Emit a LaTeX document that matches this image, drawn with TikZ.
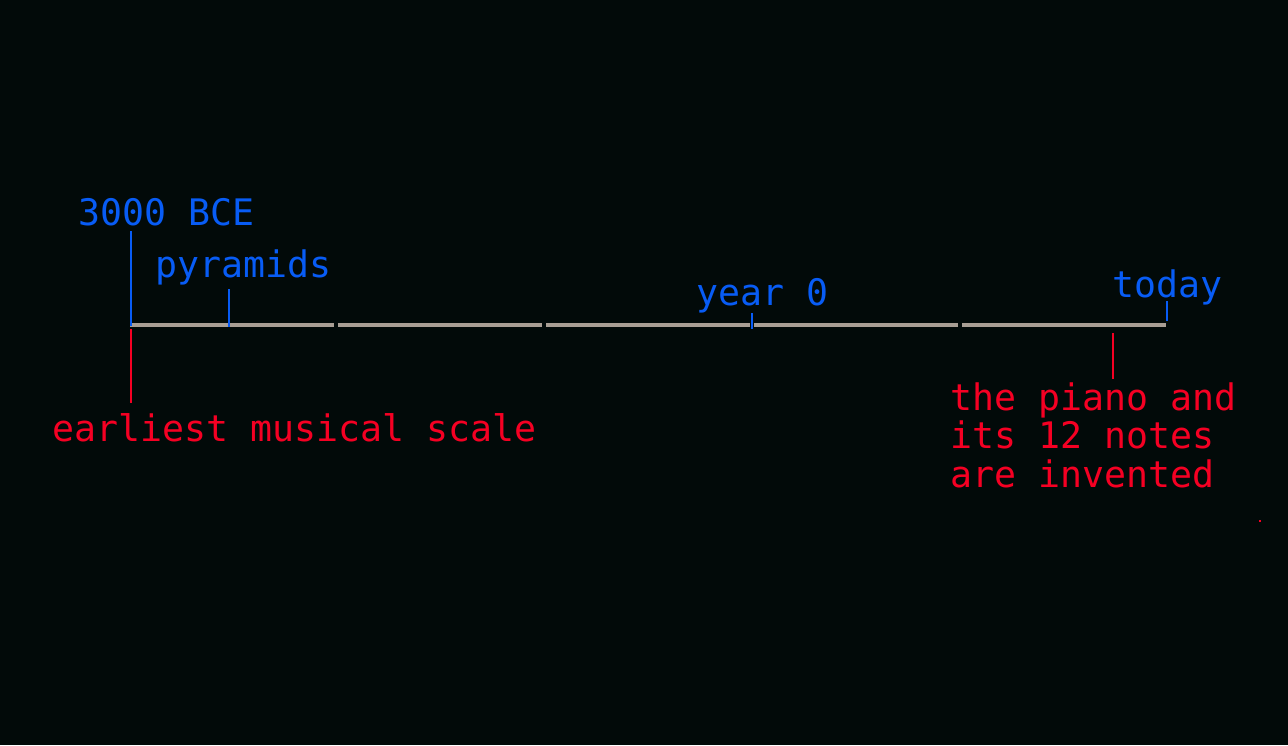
\documentclass[tikz,border=0pt]{standalone}
\usepackage{fontspec}
\setmonofont{DejaVu Sans Mono}
\usetikzlibrary{positioning, calc}
\definecolor{bgdark}{RGB}{2,10,9}
\definecolor{eventblue}{RGB}{8,92,245}
\definecolor{eventred}{RGB}{245,0,35}
\definecolor{axisgray}{RGB}{168,158,148}

\begin{document}
\begin{tikzpicture}[
    x=0.02cm, y=-0.02cm,
    % --- STYLES ---
    axis_seg/.style={draw=axisgray, line width=0.08cm},
    blue_label/.style={text=eventblue, inner sep=0pt, anchor=base west, font=\ttfamily\fontsize{20.8}{21.8}\selectfont},
    red_label/.style={text=eventred, inner sep=0pt, anchor=base west, align=left, font=\ttfamily\fontsize{20.8}{21.8}\selectfont},
    blue_tick/.style={draw=eventblue, line width=0.04cm},
    red_tick/.style={draw=eventred, line width=0.04cm}
]
\fill[bgdark] (0,0) rectangle (1288,745);
\useasboundingbox (0,0) rectangle (1288,745);

% --- 1. TIMELINE (five pieces) ---
\foreach \i in {0,...,4} {
    \draw[axis_seg] ({130+208*\i},325) -- ({334+208*\i},325);
}

% --- 2. BLUE EVENTS (above) ---
\node[blue_label] (bce) at (78,225) {3000 BCE};
\coordinate (bce_top) at (131,231);
\coordinate (bce_pt) at (131,326);
\draw[blue_tick] (bce_top) -- (bce_pt);

\node[blue_label] (pyr) at (155,277) {pyramids};
\coordinate (pyr_top) at (229,289);
\coordinate (pyr_pt) at (229,327);
\draw[blue_tick] (pyr_top) -- (pyr_pt);

\node[blue_label] (zero) at (696,305) {year 0};
\coordinate (zero_top) at (752,313);
\coordinate (zero_pt) at (752,329);
\draw[blue_tick] (zero_top) -- (zero_pt);

\node[blue_label] (today) at (1112,297) {today};
\coordinate (today_top) at (1167,301);
\coordinate (today_pt) at (1167,321);
\draw[blue_tick] (today_top) -- (today_pt);

% --- 3. RED EVENTS (below) ---
\coordinate (scale_pt) at (131,329);
\coordinate (scale_end) at (131,403);
\draw[red_tick] (scale_pt) -- (scale_end);
\node[red_label] (scale) at (52,441) {earliest musical scale};

% base of a three-line node is the last line
\coordinate (piano_pt) at (1113,333);
\coordinate (piano_end) at (1113,379);
\draw[red_tick] (piano_pt) -- (piano_end);
\node[red_label] (piano) at (950,487) {the piano and\\its 12 notes\\are invented};

% stray red speck
\fill[eventred] (1259,520) rectangle (1261,522);

\end{tikzpicture}
\end{document}
